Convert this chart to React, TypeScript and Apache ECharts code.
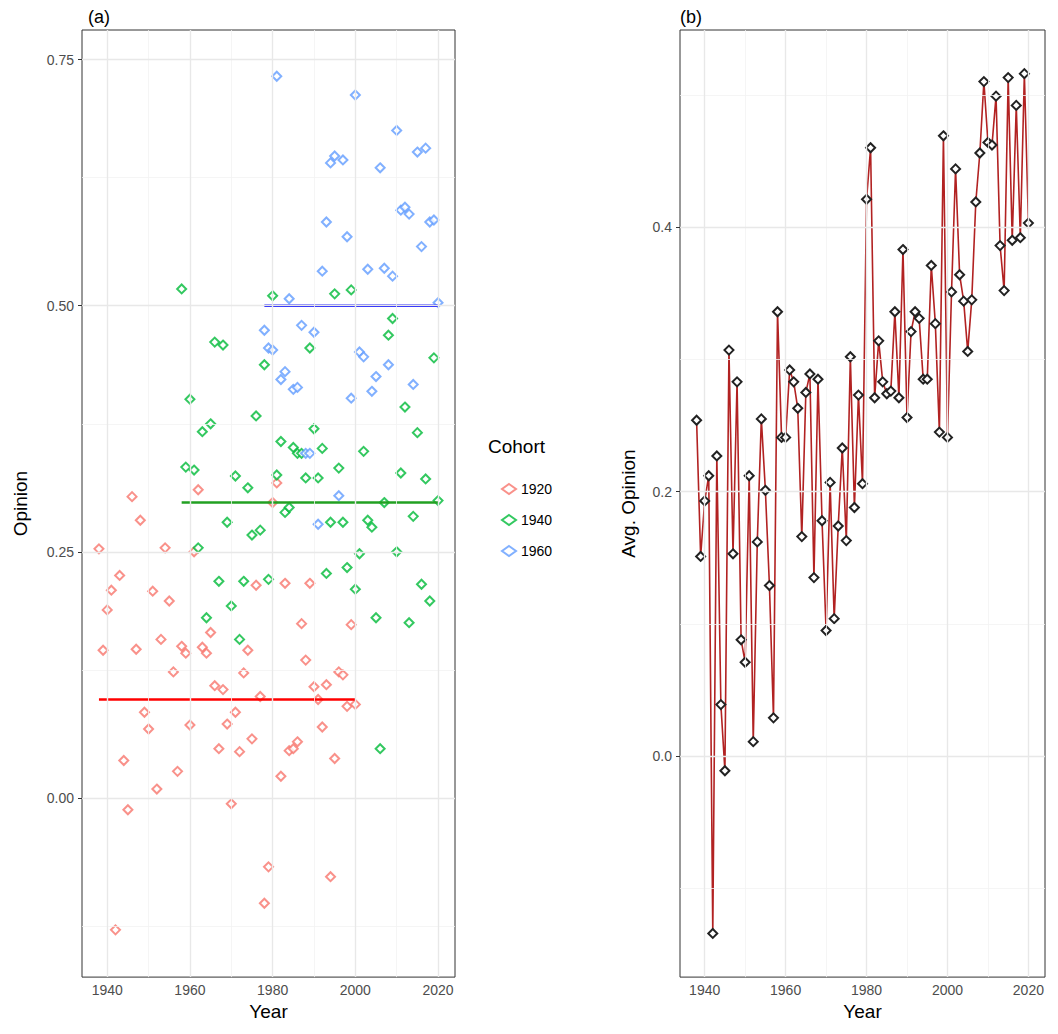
import * as echarts from 'echarts';
import { useEffect, useRef } from 'react';

const years = Array.from({ length: 83 }, (_, i) => 1938 + i);

// cohort opinions, one point per survey year
const red = [
  0.253, 0.15, 0.191, 0.211, -0.134, 0.226, 0.038, -0.012, 0.306, 0.151,
  0.282, 0.087, 0.07, 0.21, 0.009, 0.161, 0.254, 0.2, 0.128, 0.027,
  0.154, 0.147, 0.074, 0.25, 0.313, 0.153, 0.147, 0.168, 0.114, 0.05,
  0.11, 0.075, -0.006, 0.087, 0.047, 0.127, 0.15, 0.06, 0.216, 0.103,
  -0.107, -0.07, 0.3, 0.32, 0.022, 0.218, 0.048, 0.05, 0.057, 0.177,
  0.14, 0.218, 0.113, 0.1, 0.072, 0.115, -0.08, 0.04, 0.128, 0.125,
  0.093, 0.176, 0.095
];
const green = [
  0.517, 0.336, 0.405, 0.333, 0.254, 0.372, 0.183, 0.38, 0.463, 0.22,
  0.46, 0.28, 0.195, 0.327, 0.161, 0.22, 0.315, 0.267, 0.388, 0.272,
  0.44, 0.222, 0.51, 0.328, 0.362, 0.29, 0.295, 0.356, 0.35, 0.35,
  0.325, 0.457, 0.375, 0.325, 0.355, 0.228, 0.28, 0.512, 0.335, 0.28,
  0.234, 0.516, 0.212, 0.248, 0.352, 0.282, 0.275, 0.183, 0.05, 0.3,
  0.47, 0.487, 0.25, 0.33, 0.397, 0.178, 0.286, 0.371, 0.217, 0.324,
  0.2, 0.447, 0.302
];
const blue = [
  0.475, 0.457, 0.455, 0.733, 0.425, 0.433, 0.507, 0.415, 0.417, 0.48,
  0.35, 0.35, 0.473, 0.278, 0.535, 0.585, 0.645, 0.652, 0.307, 0.648,
  0.57, 0.406, 0.714, 0.453, 0.448, 0.537, 0.413, 0.428, 0.64, 0.538,
  0.44, 0.53, 0.678, 0.597, 0.6, 0.593, 0.42, 0.656, 0.56, 0.66,
  0.585, 0.587, 0.503
];
const avg = [
  0.254, 0.151, 0.193, 0.212, -0.134, 0.227, 0.039, -0.011, 0.307, 0.153,
  0.283, 0.088, 0.071, 0.212, 0.011, 0.162, 0.255, 0.201, 0.129, 0.029,
  0.336, 0.241, 0.241, 0.292, 0.283, 0.263, 0.166, 0.275, 0.289, 0.135,
  0.285, 0.178, 0.095, 0.207, 0.104, 0.174, 0.233, 0.163, 0.302, 0.188,
  0.273, 0.206, 0.421, 0.46, 0.271, 0.314, 0.283, 0.274, 0.276, 0.336,
  0.271, 0.383, 0.256, 0.321, 0.336, 0.331, 0.285, 0.285, 0.371, 0.327,
  0.245, 0.469, 0.241, 0.351, 0.444, 0.364, 0.344, 0.306, 0.345, 0.419,
  0.456, 0.51, 0.464, 0.462, 0.499, 0.386, 0.352, 0.513, 0.39, 0.492,
  0.392, 0.516, 0.403
];

const cohorts = ['1920', '1940', '1960'];
const cohortStart = [1938, 1958, 1978];
const cohortMeans = [0.1, 0.3, 0.5];
const cohortColors = ['#F8766D', '#00BA38', '#619CFF'];
const meanColors = ['#ff0000', '#22a022', '#0000ff'];
const cohortValues = [red, green, blue];

const xTicks = [1940, 1960, 1980, 2000, 2020];
const xMinor = [1950, 1970, 1990, 2010];
const leftTicks = [0, 0.25, 0.5, 0.75];
const leftMinor = [-0.125, 0.125, 0.375, 0.625];
const rightTicks = [0, 0.2, 0.4];
const rightMinor = [-0.1, 0.1, 0.3, 0.5];

const gridLines = (xi: number, major: number[], minor: number[], yMaj: number[], yMin: number[]) => ({
  type: 'line',
  xAxisIndex: xi,
  yAxisIndex: xi,
  data: [],
  silent: true,
  markLine: {
    silent: true,
    symbol: 'none',
    label: { show: false },
    animation: false,
    data: [
      ...minor.map((v) => ({ xAxis: v, lineStyle: { color: '#f3f3f3', width: 0.8, type: 'solid' } })),
      ...yMin.map((v) => ({ yAxis: v, lineStyle: { color: '#f3f3f3', width: 0.8, type: 'solid' } })),
      ...major.map((v) => ({ xAxis: v, lineStyle: { color: '#e8e8e8', width: 1.4, type: 'solid' } })),
      ...yMaj.map((v) => ({ yAxis: v, lineStyle: { color: '#e8e8e8', width: 1.4, type: 'solid' } }))
    ]
  }
});

export default function App() {
  const ref = useRef<HTMLDivElement>(null);

  useEffect(() => {
    if (!ref.current) return;
    const chart = echarts.init(ref.current, null, { renderer: 'svg' });
    const axisText = { color: '#4d4d4d', fontSize: 14, fontFamily: 'Liberation Sans' };
    const nameText = { color: '#000', fontSize: 19, fontFamily: 'Liberation Sans' };

    const xAxis = (gi: number) => ({
      type: 'value',
      gridIndex: gi,
      min: 1933.9,
      max: 2024.1,
      name: 'Year',
      nameLocation: 'middle',
      nameGap: 22,
      nameTextStyle: nameText,
      splitLine: { show: false },
      axisLine: { show: false },
      axisTick: { show: true, customValues: xTicks, length: 4, lineStyle: { color: '#333' } },
      axisLabel: { ...axisText, customValues: xTicks, margin: 6, formatter: (v: number) => String(v) }
    });

    const series: any[] = [
      gridLines(0, xTicks, xMinor, leftTicks, leftMinor),
      gridLines(1, xTicks, xMinor, rightTicks, rightMinor)
    ];
    cohorts.forEach((c, ci) => {
      series.push({
        name: c,
        type: 'scatter',
        xAxisIndex: 0,
        yAxisIndex: 0,
        symbol: 'emptyDiamond',
        symbolSize: 9,
        itemStyle: { color: cohortColors[ci], borderWidth: 1.5 },
        data: cohortValues[ci].map((v, i) => [cohortStart[ci] + i, v])
      });
      series.push({
        type: 'line',
        xAxisIndex: 0,
        yAxisIndex: 0,
        symbol: 'none',
        lineStyle: { color: meanColors[ci], width: 2.5 },
        data: [
          [cohortStart[ci], cohortMeans[ci]],
          [cohortStart[ci] + cohortValues[ci].length - 1, cohortMeans[ci]]
        ]
      });
    });
    series.push({
      type: 'line',
      xAxisIndex: 1,
      yAxisIndex: 1,
      symbol: 'emptyDiamond',
      symbolSize: 9,
      lineStyle: { color: '#b22222', width: 1.6 },
      itemStyle: { color: '#222', borderWidth: 1.5 },
      data: years.map((y, i) => [y, avg[i]])
    });

    chart.setOption({
      animation: false,
      textStyle: { fontFamily: 'Liberation Sans' },
      grid: [
        { left: 74, top: 22, width: 373, height: 955, show: true, borderColor: '#333', borderWidth: 1 },
        { left: 672, top: 22, width: 365, height: 955, show: true, borderColor: '#333', borderWidth: 1 }
      ],
      xAxis: [xAxis(0), xAxis(1)],
      yAxis: [
        {
          type: 'value',
          gridIndex: 0,
          min: -0.182,
          max: 0.78,
          name: 'Opinion',
          nameLocation: 'middle',
          nameGap: 52,
          nameTextStyle: nameText,
          splitLine: { show: false },
          axisLine: { show: false },
          axisTick: { show: true, customValues: leftTicks, length: 4, lineStyle: { color: '#333' } },
          axisLabel: { ...axisText, customValues: leftTicks, formatter: (v: number) => v.toFixed(2) }
        },
        {
          type: 'value',
          gridIndex: 1,
          min: -0.167,
          max: 0.549,
          name: 'Avg. Opinion',
          nameLocation: 'middle',
          nameGap: 42,
          nameTextStyle: nameText,
          splitLine: { show: false },
          axisLine: { show: false },
          axisTick: { show: true, customValues: rightTicks, length: 4, lineStyle: { color: '#333' } },
          axisLabel: { ...axisText, customValues: rightTicks, formatter: (v: number) => v.toFixed(1) }
        }
      ],
      legend: {
        data: cohorts,
        orient: 'vertical',
        left: 488,
        top: 469,
        itemGap: 17,
        itemWidth: 14,
        itemHeight: 10,
        textStyle: { fontSize: 14, color: '#000', fontFamily: 'Liberation Sans' }
      },
      graphic: [
        { type: 'text', left: 480, top: 429, style: { text: 'Cohort', fontSize: 19, fill: '#000', fontFamily: 'Liberation Sans' } },
        { type: 'text', left: 80, top: 0, style: { text: '(a)', fontSize: 18, fill: '#000', fontFamily: 'Liberation Sans' } },
        { type: 'text', left: 672, top: 0, style: { text: '(b)', fontSize: 18, fill: '#000', fontFamily: 'Liberation Sans' } }
      ],
      series
    });
    return () => chart.dispose();
  }, []);

  return <div ref={ref} style={{ width: 1042, height: 1018 }} />;
}
